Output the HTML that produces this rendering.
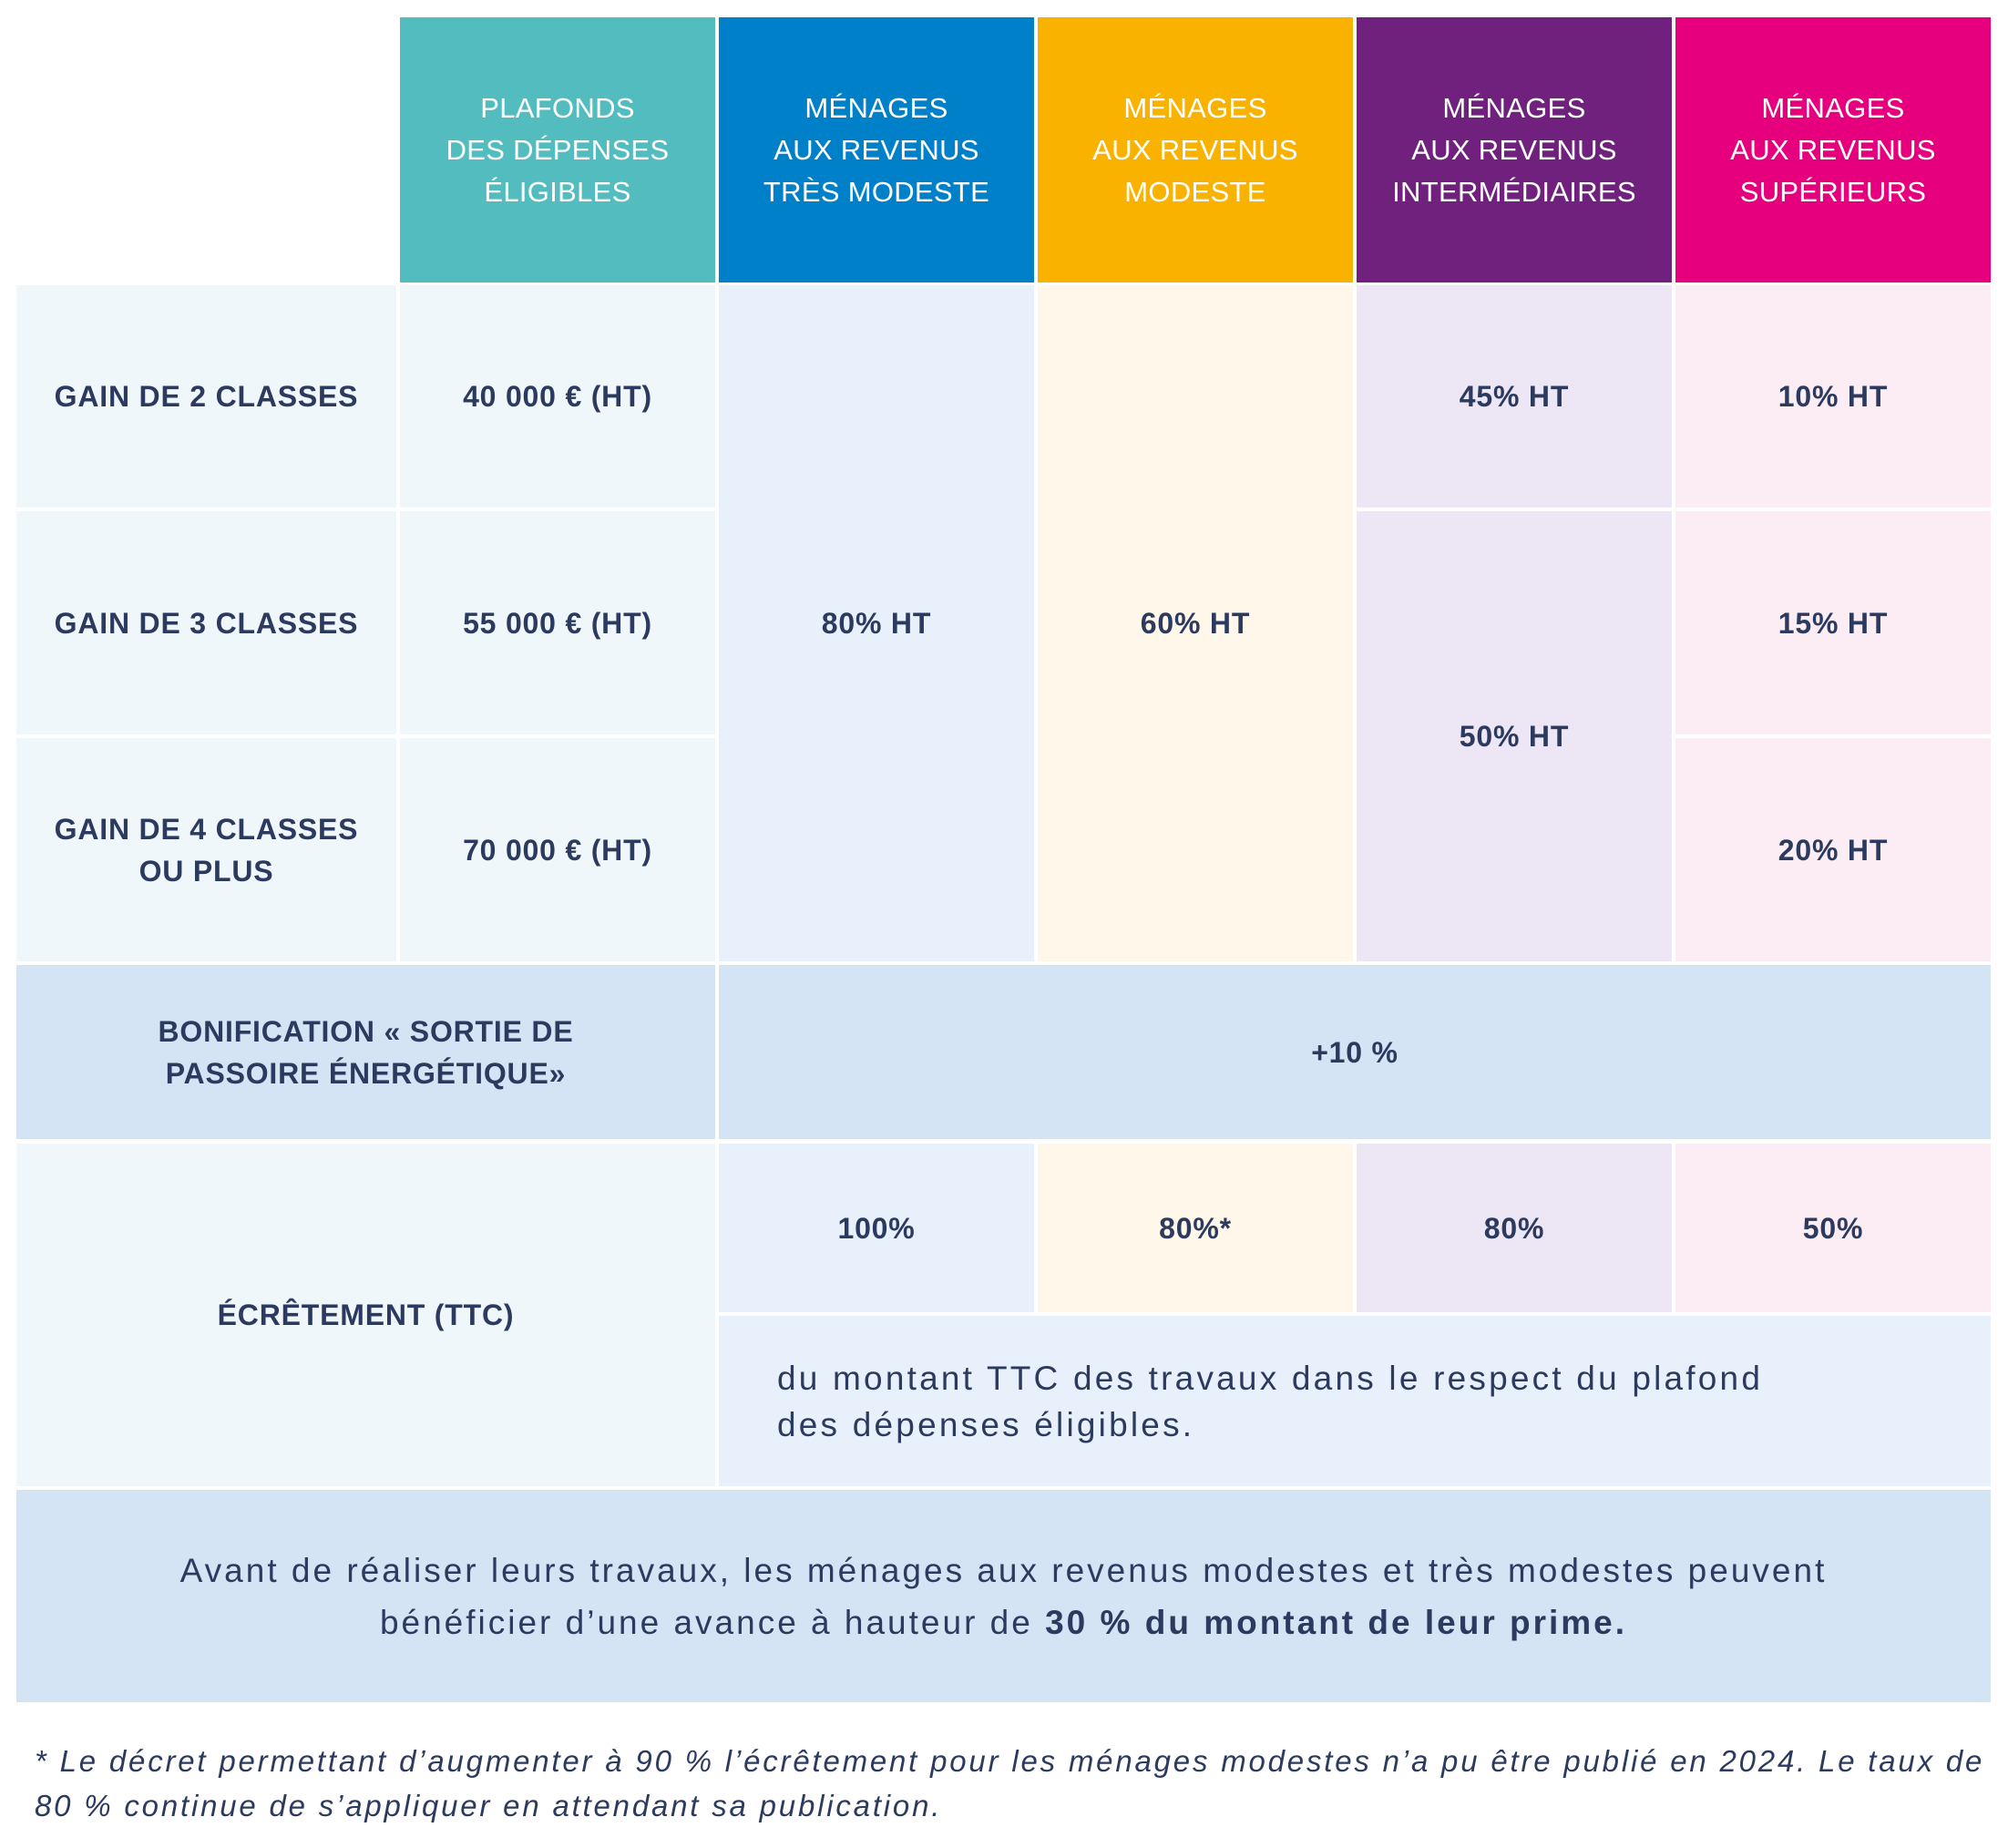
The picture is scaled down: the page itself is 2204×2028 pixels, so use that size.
<!DOCTYPE html>
<html><head><meta charset="utf-8"><style>
body{margin:0;width:2204px;height:2028px;background:#fff;position:relative;font-family:"Liberation Sans",sans-serif;color:#2b3a5e;overflow:hidden}
.c{position:absolute;display:flex;align-items:center;justify-content:center;text-align:center;box-sizing:border-box;font-size:32px;line-height:46px;letter-spacing:0.8px;font-weight:bold}
.h{color:#fff;font-size:31px;line-height:46px;letter-spacing:0.3px;font-weight:normal}
.lb{background:#f0f7fb}
.bl{background:#e8f1fb}.ye{background:#fff8ea}.pu{background:#ede6f4}.pk{background:#fcedf5}.bo{background:#d4e4f5}
</style></head><body>
<div class="c h" style="left:439px;top:19px;width:346px;height:291px;background:#52bcbf">PLAFONDS<br>DES DÉPENSES<br>ÉLIGIBLES</div>
<div class="c h" style="left:789px;top:19px;width:346px;height:291px;background:#0080c9">MÉNAGES<br>AUX REVENUS<br>TRÈS MODESTE</div>
<div class="c h" style="left:1139px;top:19px;width:346px;height:291px;background:#f9b200">MÉNAGES<br>AUX REVENUS<br>MODESTE</div>
<div class="c h" style="left:1489px;top:19px;width:346px;height:291px;background:#70207d">MÉNAGES<br>AUX REVENUS<br>INTERMÉDIAIRES</div>
<div class="c h" style="left:1839px;top:19px;width:346px;height:291px;background:#e6007e">MÉNAGES<br>AUX REVENUS<br>SUPÉRIEURS</div>
<div class="c lb" style="left:18px;top:313px;width:417px;height:244px">GAIN DE 2 CLASSES</div>
<div class="c lb" style="left:18px;top:561px;width:417px;height:245px">GAIN DE 3 CLASSES</div>
<div class="c lb" style="left:18px;top:810px;width:417px;height:245px">GAIN DE 4 CLASSES<br>OU PLUS</div>
<div class="c lb" style="left:439px;top:313px;width:346px;height:244px">40 000 € (HT)</div>
<div class="c lb" style="left:439px;top:561px;width:346px;height:245px">55 000 € (HT)</div>
<div class="c lb" style="left:439px;top:810px;width:346px;height:245px">70 000 € (HT)</div>
<div class="c bl" style="left:789px;top:313px;width:346px;height:742px">80% HT</div>
<div class="c ye" style="left:1139px;top:313px;width:346px;height:742px">60% HT</div>
<div class="c pu" style="left:1489px;top:313px;width:346px;height:244px">45% HT</div>
<div class="c pu" style="left:1489px;top:561px;width:346px;height:494px">50% HT</div>
<div class="c pk" style="left:1839px;top:313px;width:346px;height:244px">10% HT</div>
<div class="c pk" style="left:1839px;top:561px;width:346px;height:245px">15% HT</div>
<div class="c pk" style="left:1839px;top:810px;width:346px;height:245px">20% HT</div>
<div class="c bo" style="left:18px;top:1059px;width:767px;height:191px">BONIFICATION « SORTIE DE<br>PASSOIRE ÉNERGÉTIQUE»</div>
<div class="c bo" style="left:789px;top:1059px;width:1396px;height:191px">+10 %</div>
<div class="c lb" style="left:18px;top:1255px;width:767px;height:376px">ÉCRÊTEMENT (TTC)</div>
<div class="c bl" style="left:789px;top:1255px;width:346px;height:185px">100%</div>
<div class="c ye" style="left:1139px;top:1255px;width:346px;height:185px">80%*</div>
<div class="c pu" style="left:1489px;top:1255px;width:346px;height:185px">80%</div>
<div class="c pk" style="left:1839px;top:1255px;width:346px;height:185px">50%</div>
<div class="c bl" style="left:789px;top:1444px;width:1396px;height:187px;justify-content:flex-start;text-align:left;padding-left:64px;font-size:37px;line-height:51px;letter-spacing:3.2px;font-weight:normal"><span>du montant TTC des travaux dans le respect du plafond<br>des dépenses éligibles.</span></div>
<div class="c bo" style="left:18px;top:1635px;width:2167px;height:233px;font-size:37px;line-height:57px;letter-spacing:3px;font-weight:normal"><span>Avant de réaliser leurs travaux, les ménages aux revenus modestes et très modestes peuvent<br>bénéficier d’une avance à hauteur de <b>30 % du montant de leur prime.</b></span></div>
<div style="position:absolute;left:38px;top:1908px;width:2160px;font-style:italic;font-size:33px;line-height:49px;letter-spacing:2.8px;white-space:nowrap">* Le décret permettant d’augmenter à 90 % l’écrêtement pour les ménages modestes n’a pu être publié en 2024. Le taux de<br>80 % continue de s’appliquer en attendant sa publication.</div>
</body></html>
